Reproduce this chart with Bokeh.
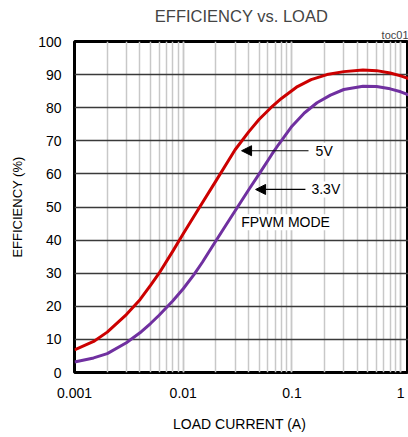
from bokeh.plotting import figure
from bokeh.models import (Label, Arrow, NormalHead, SingleIntervalTicker, FixedTicker, LogTicker, Title)
from bokeh.embed import file_html
from bokeh.resources import INLINE

FONT = "Liberation Sans"

title_text = "EFFICIENCY vs. LOAD"
figure_id = "toc01"

# 5V curve (load current in A, efficiency in %)
i_5v = [0.001, 0.0015, 0.002, 0.003, 0.004, 0.005, 0.006, 0.008, 0.01, 0.014,
        0.02, 0.03, 0.04, 0.05, 0.064, 0.08, 0.11, 0.15, 0.21, 0.3, 0.45, 0.6, 0.8, 1.0, 1.18]
eff_5v = [6.8, 9.4, 12.2, 17.5, 22.0, 26.3, 30.0, 36.6, 41.9, 49.7,
          57.9, 67.3, 72.7, 76.5, 80.0, 82.8, 86.2, 88.5, 90.0, 90.9, 91.4, 91.2, 90.5, 89.6, 88.8]

# 3.3V curve
i_3v3 = [0.001, 0.0015, 0.002, 0.003, 0.004, 0.005, 0.006, 0.008, 0.01, 0.0125,
         0.015, 0.02, 0.025, 0.0325, 0.04, 0.05, 0.065, 0.075, 0.1, 0.13, 0.17,
         0.226, 0.3, 0.45, 0.6, 0.8, 1.0, 1.18]
eff_3v3 = [3.2, 4.4, 5.7, 9.0, 12.0, 14.8, 17.3, 21.6, 25.3, 29.5,
           33.3, 39.8, 44.8, 50.6, 55.2, 60.0, 65.8, 68.8, 74.4, 78.4, 81.5,
           83.8, 85.5, 86.5, 86.4, 85.7, 84.8, 83.9]

x_ticks = [0.001, 0.01, 0.1, 1]
x_tick_labels = {0.001: "0.001", 0.01: "0.01", 0.1: "0.1", 1: "1"}

p = figure(width=408, height=437, x_axis_type="log",
           x_range=(0.001, 1.18), y_range=(0, 100),
           output_backend="svg", toolbar_location=None,
           min_border_left=74, min_border_right=0, min_border_top=41,
           min_border_bottom=65)

p.title.text = title_text
p.title.align = "center"
p.title.text_font = FONT
p.title.text_font_size = "16.5px"
p.title.text_font_style = "normal"
p.title.standoff = 4

p.add_layout(Title(text=figure_id, align="right", text_font=FONT,
                   text_font_size="11px", text_font_style="normal",
                   standoff=1), "above")

p.outline_line_color = "black"
p.outline_line_width = 3
p.background_fill_color = "white"
p.border_fill_color = "white"

# axes
p.xaxis.ticker = FixedTicker(ticks=x_ticks, minor_ticks=[])
p.xaxis.major_label_overrides = x_tick_labels
p.yaxis.ticker = SingleIntervalTicker(interval=10, num_minor_ticks=0)
for ax in (p.xaxis[0], p.yaxis[0]):
    ax.axis_line_color = None
    ax.major_tick_line_color = None
    ax.minor_tick_line_color = None
    ax.major_tick_in = 0
    ax.major_tick_out = 0
    ax.major_label_text_font = FONT
    ax.major_label_text_font_size = "14px"
    ax.axis_label_text_font = FONT
    ax.axis_label_text_font_style = "normal"
    ax.major_label_text_color = "black"
    ax.axis_label_text_color = "black"
p.xaxis.axis_label_text_font_size = "14px"
p.yaxis.axis_label_text_font_size = "13px"
p.xaxis.axis_label = "LOAD CURRENT  (A)"
p.yaxis.axis_label = "EFFICIENCY (%)"
p.xaxis.major_label_standoff = 15
p.xaxis.axis_label_standoff = 15
p.yaxis.major_label_standoff = 13
p.yaxis.axis_label_standoff = 10

# grids
p.xgrid.ticker = LogTicker(num_minor_ticks=10)
p.xgrid.grid_line_color = "#c8c8c8"
p.xgrid.grid_line_width = 1.5
p.xgrid.minor_grid_line_color = "#c8c8c8"
p.xgrid.minor_grid_line_width = 1.5
p.ygrid.grid_line_color = "#3a3a3a"
p.ygrid.grid_line_width = 1.5

# curves
p.line(i_5v, eff_5v, line_color="#cc0000", line_width=3, line_join="round")
p.line(i_3v3, eff_3v3, line_color="#7030a0", line_width=3, line_join="round")

# annotations
p.add_layout(Arrow(end=NormalHead(size=10, fill_color="black", line_color="black"),
                   x_start=0.142, y_start=67, x_end=0.0344, y_end=67,
                   line_color="black", line_width=1.2))
p.add_layout(Arrow(end=NormalHead(size=10, fill_color="black", line_color="black"),
                   x_start=0.133, y_start=55.3, x_end=0.0463, y_end=55.3,
                   line_color="black", line_width=1.2))

for (tx, ty, txt) in [(0.165, 67, "5V"), (0.151, 55.3, "3.3V"), (0.0342, 45.4, "FPWM MODE")]:
    p.add_layout(Label(x=tx, y=ty, text=txt, text_baseline="middle",
                       text_font=FONT, text_font_size="14px",
                       background_fill_color="white", text_color="black"))

open("out.html", "w").write(file_html(p, INLINE))
